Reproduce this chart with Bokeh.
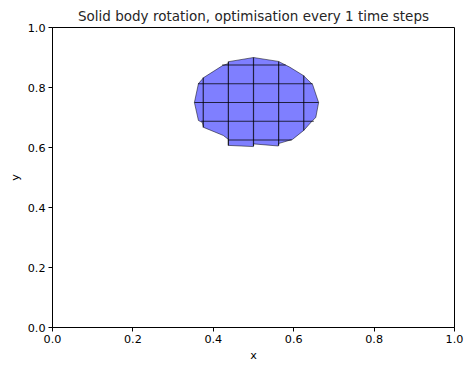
from bokeh.plotting import figure
from bokeh.models import Range1d, FixedTicker, CustomJSTickFormatter
from bokeh.embed import file_html
from bokeh.resources import INLINE

# Outline of the rotated body (data coordinates)
outline_x = [0.500, 0.562, 0.590, 0.624, 0.647, 0.662, 0.655, 0.647, 0.625, 0.597,
             0.562, 0.562, 0.500, 0.500, 0.4375, 0.4375, 0.425, 0.376, 0.373, 0.363,
             0.353, 0.363, 0.376, 0.423, 0.4375, 0.4375]
outline_y = [0.900, 0.887, 0.868, 0.840, 0.810, 0.750, 0.700, 0.690, 0.657, 0.627,
             0.613, 0.605, 0.612, 0.603, 0.607, 0.627, 0.640, 0.667, 0.683, 0.690,
             0.750, 0.813, 0.833, 0.873, 0.880, 0.886]

# Interior mesh lines
seg_x0 = [0.375, 0.4375, 0.500, 0.5625, 0.625, 0.422, 0.362, 0.353, 0.370, 0.4375]
seg_y0 = [0.667, 0.607, 0.605, 0.607, 0.657, 0.875, 0.8125, 0.750, 0.6875, 0.625]
seg_x1 = [0.375, 0.4375, 0.500, 0.5625, 0.625, 0.580, 0.647, 0.662, 0.650, 0.595]
seg_y1 = [0.833, 0.886, 0.900, 0.887, 0.840, 0.875, 0.8125, 0.750, 0.6875, 0.625]

ticks = [0.0, 0.2, 0.4, 0.6, 0.8, 1.0]

FONT = "DejaVu Sans"

p = figure(width=464, height=366, output_backend="svg", toolbar_location=None,
           x_range=Range1d(0, 1), y_range=Range1d(0, 1),
           title="Solid body rotation, optimisation every 1 time steps")
p.min_border_left = 52
p.min_border_right = 10
p.min_border_top = 27
p.min_border_bottom = 39

p.title.align = "center"
p.title.text_font = FONT
p.title.text_font_size = "13.5px"
p.title.text_font_style = "normal"
p.title.text_color = "#262626"
p.title.offset = 0
p.title.standoff = 7

p.patch(outline_x, outline_y, fill_color="blue", fill_alpha=0.5,
        line_color="black", line_alpha=0.5, line_width=1)
p.segment(seg_x0, seg_y0, seg_x1, seg_y1, line_color="black", line_alpha=0.75,
          line_width=1.2)

p.xgrid.visible = False
p.ygrid.visible = False
p.outline_line_color = "black"
p.outline_line_alpha = 1.0

fmt = CustomJSTickFormatter(code="return tick.toFixed(1);")
for ax in (p.xaxis[0], p.yaxis[0]):
    ax.ticker = FixedTicker(ticks=ticks)
    ax.formatter = fmt
    ax.minor_tick_line_color = None
    ax.major_tick_in = 0
    ax.major_tick_out = 4
    ax.major_label_text_font = FONT
    ax.major_label_text_font_size = "11.2px"
    ax.major_label_text_color = "black"
    ax.axis_label_text_font = FONT
    ax.axis_label_text_font_size = "11.2px"
    ax.axis_label_text_font_style = "normal"
    ax.axis_label_text_color = "black"
    ax.axis_line_color = "black"
    ax.major_label_standoff = 3
    ax.axis_label_standoff = 3

p.xaxis.axis_label = "x"
p.yaxis.axis_label = "y"

open("out.html", "w").write(file_html(p, INLINE))
